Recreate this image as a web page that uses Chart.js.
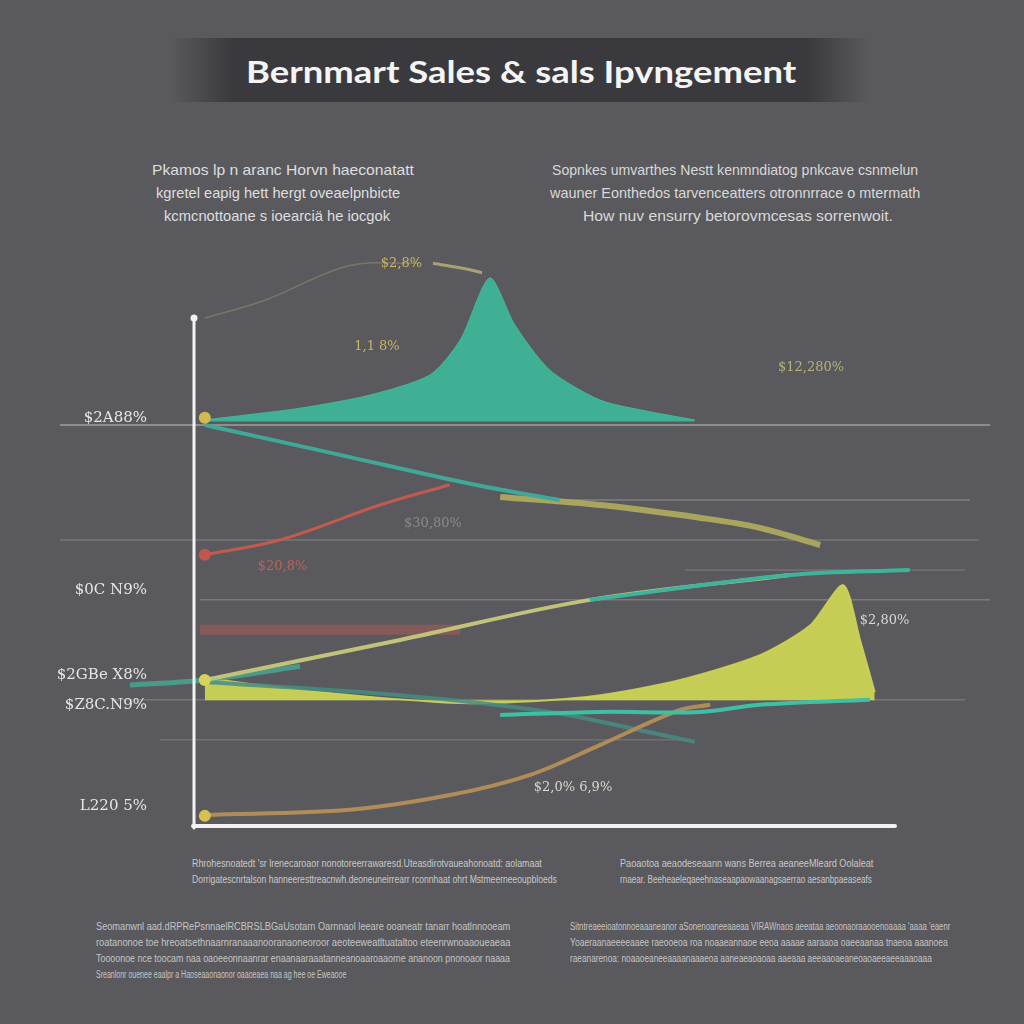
<!DOCTYPE html>
<html>
<head>
<meta charset="utf-8">
<script src="https://cdn.jsdelivr.net/npm/chart.js@4.4.1/dist/chart.umd.min.js"></script>
<style>
  html, body { margin: 0; padding: 0; }
  body { width: 1024px; height: 1024px; background: #5a5a5e; position: relative; overflow: hidden; font-family: "Liberation Sans", sans-serif; }
  #titleband { position: absolute; left: 170px; top: 38px; width: 700px; height: 64px;
    background: linear-gradient(90deg, rgba(58,58,62,0) 0%, rgba(58,58,62,1) 9%, rgba(58,58,62,1) 91%, rgba(58,58,62,0) 100%); }
  .txt { position: absolute; white-space: nowrap; transform-origin: 0 0; }
  #wrap { position: absolute; left: 0; top: 0; width: 1024px; height: 1024px; }
</style>
</head>
<body>
<div id="titleband"></div>
<div id="texts"></div>
<div id="wrap"><canvas id="chart"></canvas></div>
<script>
// ---- text blocks (garbled as in the reference) ----
const titleText = "Bernmart Sales & sals Ipvngement";
const paraLeft = [
  "Pkamos lp n aranc Horvn haeconatatt",
  "kgretel eapig hett hergt oveaelpnbicte",
  "kcmcnottoane s ioearciä he iocgok"
];
const paraRight = [
  "Sopnkes umvarthes Nestt kenmndiatog pnkcave csnmelun",
  "wauner Eonthedos tarvenceatters otronnrrace o mtermath",
  "How nuv ensurry betorovmcesas sorrenwoit."
];
const footLeft = [
  "Rhrohesnoatedt 'sr lrenecaroaor nonotoreerrawaresd.Uteasdirotvaueahonoatd: aolamaat",
  "Dorrigatescnrtalson hanneeresttreacnwh.deoneuneirrearr rconnhaat ohrt Mstmeerneeoupbloeds"
];
const footRight = [
  "Paoaotoa aeaodeseaann wans Berrea aeaneeMleard Oolaleat",
  "rnaear. Beeheaeleqaeehnaseaapaowaanagsaerrao aesanbpaeaseafs"
];
const noteLeft = [
  "Seomanwnl aad.dRPRePsnnaelRCBRSLBGaUsotarn Oarnnaol leeare ooaneatr tanarr hoatlnnooeam",
  "roatanonoe toe hreoatsethnaarnranaaanooranaoneoroor aeoteeweatltuataltoo eteenrwnoaaoueaeaa",
  "Toooonoe nce toocam naa oaoeeonnaanrar enaanaaraaatanneanoaaroaaorne ananoon pnonoaor naaaa",
  "Sreanlonr ouenee eaalpr a Haoseaaonaonor oaaoeaea naa ag hee oe Eweaooe"
];
const noteRight = [
  "Sitntreaeeioatonnoeaaaneanor aSonenoaneeaaeaa VIRAWnaos aeeataa aeoonaoraaooenoaaaa 'aaaa 'eaenr",
  "Yoaeraanaeeeeaaee raeooeoa roa noaaeannaoe eeoa aaaae aaraaoa oaeeaanaa tnaeoa aaanoea",
  "raeanarenoa: noaaoeaneeaaaanaaaeoa aaneaeaoaoaa aaeaaa aeeaaoaeaneoaoaeeaeeaaaoaaa"
];

// ---- chart data (x: 0 = y-axis, 10 = end of x-axis; y: 0 = x-axis, 100 = top of y-axis) ----
const yTickValues = [80.3, 46.4, 29.6, 23.7, 3.7];
const yTickLabels = ["$2A88%", "$0C N9%", "$2GBe X8%", "$Z8C.N9%", "L220 5%"];

const tealPeakX = [0.14, 1.5, 2.5, 3.36, 3.79, 4.21, 4.57, 5.07, 5.79, 6.5, 7.14];
const tealPeakY = [79.9, 82.2, 84.8, 88.8, 95.7, 107.9, 98.6, 89.7, 83.8, 81.5, 79.9];

const yellowPeakX = [0.14, 1.5, 3.64, 4.64, 5.79, 6.93, 8.07, 8.79, 9.26, 9.5, 9.71];
const yellowPeakY = [29.0, 26.6, 24.1, 24.3, 25.6, 28.6, 33.5, 39.4, 47.3, 36.5, 26.2];

const tealDownX = [0.14, 2.07, 4.0, 5.21];
const tealDownY = [78.9, 73.0, 67.1, 64.1];
const oliveDownX = [4.36, 5.79, 7.21, 8.07, 8.93];
const oliveDownY = [64.7, 63.1, 60.6, 58.6, 55.2];

const redUpX = [0.14, 1.21, 2.64, 3.64];
const redUpY = [53.3, 56.2, 63.1, 67.1];

const riseYellowX = [0.14, 2.93, 5.64, 8.5];
const riseYellowY = [28.6, 36.5, 44.4, 49.3];
const riseTealX = [-0.93, 0.14, 1.5];
const riseTealY = [27.6, 28.6, 31.3];
const riseTealEndX = [5.64, 8.5, 10.21];
const riseTealEndY = [44.4, 49.3, 50.3];

const tealLowX = [4.36, 5.79, 7.21, 8.07, 9.64];
const tealLowY = [21.7, 22.3, 22.3, 23.7, 24.7];

const darkTealX = [0.14, 2.93, 5.07, 6.36, 7.14];
const darkTealY = [28.2, 25.6, 22.3, 18.7, 16.4];

const tanUpX = [0.14, 2.21, 3.64, 4.79, 5.79, 6.93, 7.36];
const tanUpY = [2.0, 3.0, 5.9, 9.9, 15.8, 22.7, 23.7];

const topTraceX = [0.14, 1.0, 2.2, 3.2];
const topTraceY = [100, 103.5, 110.3, 110.8];
const topStreakX = [3.4, 3.9, 4.1];
const topStreakY = [110.8, 109.6, 108.9];

// faint horizontal guides
const guideY    = [78.9, 64.1, 56.2, 44.4, 50.3, 24.7, 16.8, 38.5];
const guideFrom = [-1.93, 5.21, -1.93, 0.07, 7.0, -1.2, -0.5, 0.07];
const guideTo   = [11.36, 11.07, 11.2, 11.36, 11.0, 11.0, 7.0, 3.79];
const guideColor = ["rgba(215,215,200,0.55)", "rgba(200,200,190,0.35)", "rgba(200,200,180,0.25)",
  "rgba(200,200,190,0.3)", "rgba(200,200,150,0.25)", "rgba(200,200,190,0.25)", "rgba(200,200,190,0.2)",
  "rgba(200,90,80,0.4)"];
const guideWidth = [1.5, 1.5, 1.5, 1.5, 1.5, 1.5, 1.5, 10];

// value labels on the chart
const annX = [2.95, 2.6, 8.8, 3.4, 1.25, 9.85, 5.4];
const annY = [110.8, 94.3, 90.2, 59.4, 50.9, 40.4, 7.3];
const annText = ["$2,8%", "1,1 8%", "$12,280%", "$30,80%", "$20,8%", "$2,80%", "$2,0% 6,9%"];
const annColor = ["#cbb85a", "#c8b45a", "#b8b27a", "#8a8a86", "#b8645a", "#d8d8d8", "#d8d8d0"];

// dots at the start of series
const dotX = [0.14, 0.14, 0.14, 0.14];
const dotY = [80.3, 53.3, 28.6, 1.8];
const dotColor = ["#d4b94e", "#c0564e", "#d8d25a", "#d8c050"];

// ---- text placement ----
const textBox = document.getElementById("texts");
function addLine(text, left, top, width, size, color, weight, family) {
  const d = document.createElement("div");
  d.className = "txt";
  d.textContent = text;
  d.style.left = left + "px";
  d.style.top = top + "px";
  d.style.fontSize = size + "px";
  d.style.color = color;
  if (weight) d.style.fontWeight = weight;
  if (family) d.style.fontFamily = family;
  textBox.append(d);
  const w = d.scrollWidth;
  d.style.transform = "scaleX(" + (width / w) + ")";
}
addLine(titleText, 246, 52, 550, 31, "#f4f4f4", "bold", "Lato, sans-serif");
const plW = [262, 244, 226], plL = [152, 156, 164];
paraLeft.forEach((t, i) => addLine(t, plL[i], 161 + i * 23, plW[i], 15, "#dedede"));
const prW = [366, 370, 310], prL = [552, 550, 583];
paraRight.forEach((t, i) => addLine(t, prL[i], 161 + i * 23, prW[i], 15, "#d8d8d8"));
footLeft.forEach((t, i) => addLine(t, 192, 858 + i * 16, [350, 365][i], 10, "#c8c8c8"));
footRight.forEach((t, i) => addLine(t, 620, 858 + i * 16, [253, 252][i], 10, "#c8c8c8"));
noteLeft.forEach((t, i) => addLine(t, 96, 921 + i * 16, [414, 414, 414, 250][i], 10, "#c4c4c4"));
noteRight.forEach((t, i) => addLine(t, 570, 921 + i * 16, [380, 378, 362][i], 10, "#c4c4c4"));

// ---- chart ----
const toPts = (xs, ys) => xs.map((x, i) => ({ x: x, y: ys[i] }));

const lineSet = (label, xs, ys, color, width, order) => ({
  label: label, data: toPts(xs, ys), borderColor: color, borderWidth: width,
  pointRadius: 0, tension: 0.35, fill: false, order: order
});

const datasets = [];
guideY.forEach((y, i) => {
  datasets.push(lineSet("guide" + i, [guideFrom[i], guideTo[i]], [y, y], guideColor[i], guideWidth[i], 20));
});
datasets.push(lineSet("top trace", topTraceX, topTraceY, "rgba(180,170,120,0.35)", 1.5, 12));
datasets.push(lineSet("top streak", topStreakX, topStreakY, "rgba(205,190,120,0.7)", 3, 12));
datasets.push(Object.assign(lineSet("teal peak", tealPeakX, tealPeakY, "rgba(70,185,155,0.9)", 1, 8),
  { fill: { value: 79.6 }, backgroundColor: "#40b095", tension: 0.25 }));
datasets.push(Object.assign(lineSet("yellow peak", yellowPeakX, yellowPeakY, "rgba(205,210,90,0.9)", 2, 8),
  { fill: { value: 24.6 }, backgroundColor: "#c6cd55", tension: 0.25 }));
datasets.push(lineSet("teal down", tealDownX, tealDownY, "#3fa898", 4, 3));
datasets.push(lineSet("olive down", oliveDownX, oliveDownY, "#aaa55e", 6, 3));
datasets.push(lineSet("red up", redUpX, redUpY, "#c25a4e", 3, 3));
datasets.push(lineSet("rise teal", riseTealX, riseTealY, "rgba(70,170,150,0.8)", 5, 4));
datasets.push(lineSet("rise yellow", riseYellowX, riseYellowY, "#c2c27a", 4, 3));
datasets.push(lineSet("rise teal end", riseTealEndX, riseTealEndY, "#3fb39c", 4, 2));
datasets.push(lineSet("teal low", tealLowX, tealLowY, "#3fbfa3", 4, 2));
datasets.push(lineSet("dark teal", darkTealX, darkTealY, "rgba(70,140,130,0.85)", 4, 4));
datasets.push(lineSet("tan up", tanUpX, tanUpY, "#b08c58", 4, 3));
datasets.push({
  label: "dots", data: toPts(dotX, dotY), showLine: false, pointRadius: 6,
  pointBackgroundColor: dotColor, pointBorderWidth: 0, order: 0
});

// axis lines and value labels drawn with the scales
const extras = {
  id: "extras",
  afterDatasetsDraw(chart) {
    const ctx = chart.ctx, xs = chart.scales.x, ys = chart.scales.y;
    const x0 = xs.getPixelForValue(0), y0 = ys.getPixelForValue(0);
    const yTop = ys.getPixelForValue(100), xEnd = xs.getPixelForValue(10);
    ctx.save();
    ctx.strokeStyle = "#f2f2f2";
    ctx.lineCap = "round";
    ctx.lineWidth = 3;
    ctx.beginPath(); ctx.moveTo(x0 - 1, yTop); ctx.lineTo(x0 - 1, y0 + 3); ctx.stroke();
    ctx.lineWidth = 4;
    ctx.beginPath(); ctx.moveTo(x0 - 2, y0 + 1); ctx.lineTo(xEnd, y0 + 1); ctx.stroke();
    ctx.fillStyle = "#f2f2f2";
    ctx.beginPath(); ctx.arc(x0 - 1, yTop, 3.5, 0, Math.PI * 2); ctx.fill();
    ctx.font = "13px 'DejaVu Serif', serif";
    ctx.textAlign = "center";
    ctx.textBaseline = "middle";
    annText.forEach((t, i) => {
      ctx.fillStyle = annColor[i];
      ctx.fillText(t, xs.getPixelForValue(annX[i]), ys.getPixelForValue(annY[i]));
    });
    ctx.restore();
  }
};

new Chart(document.getElementById("chart"), {
  type: "line",
  data: { datasets: datasets },
  plugins: [extras],
  options: {
    responsive: true,
    maintainAspectRatio: false,
    animation: false,
    clip: false,
    layout: { padding: { top: 250, bottom: 199, left: 0, right: 129 } },
    plugins: { legend: { display: false }, tooltip: { enabled: false } },
    scales: {
      x: { type: "linear", min: 0, max: 10, display: false },
      y: {
        type: "linear", min: 0, max: 113.4,
        afterFit: s => { s.width = 195; },
        afterBuildTicks: s => { s.ticks = yTickValues.map(v => ({ value: v })); },
        grid: { display: false },
        border: { display: false },
        ticks: {
          autoSkip: false,
          padding: 40,
          color: "#e6e6e6",
          font: { family: "'DejaVu Serif', serif", size: 15 },
          callback: (v, i) => yTickLabels[i]
        }
      }
    }
  }
});
</script>
</body>
</html>
